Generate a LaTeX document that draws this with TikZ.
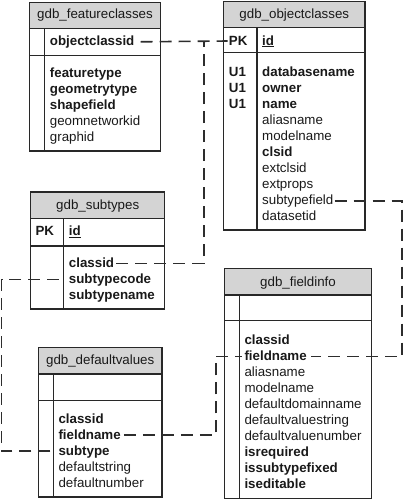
\documentclass[tikz,border=0pt]{standalone}
\usepackage{fontspec}
\setmainfont{Liberation Sans}
\definecolor{hdrgray}{RGB}{212,212,212}
\definecolor{framec}{RGB}{40,40,40}
\definecolor{txtc}{RGB}{25,25,25}
\definecolor{linkc}{RGB}{45,45,45}
\tikzset{
  frame/.style={draw=framec, line width=1.1pt},
  hdrbox/.style={frame, fill=hdrgray},
  sep/.style={draw=framec, line width=1.1pt},
  fld/.style={anchor=base west, inner sep=0pt, text=txtc, font=\fontsize{13.33}{16}\selectfont},
  bfld/.style={fld, font=\fontsize{13.33}{16}\selectfont\bfseries},
  ttl/.style={anchor=base, inner sep=0pt, text=txtc, font=\fontsize{13.33}{16}\selectfont},
  link/.style={draw=linkc, line width=1.6pt, dash pattern=on 12pt off 7pt}
}
\begin{document}
\begin{tikzpicture}[x=1pt,y=-1pt]
\useasboundingbox (0,0) rectangle (403,499);

% ---------- gdb_featureclasses ----------
\path[hdrbox] (29.7,2.7) rectangle (160.3,28.3);
\draw[frame] (29.7,2.7) rectangle (160.3,151);
\draw[sep] (29.7,55.3) -- (160.3,55.3);
\draw[sep] (44.3,28.3) -- (44.3,151);
\node[ttl] (fc-t) at (95,18.8) {gdb\_featureclasses};
\node[bfld] (fc-oid) at (49.7,45.8) {objectclassid};
\node[bfld] (fc-ft) at (49.7,77.8) {featuretype};
\node[bfld] (fc-gt) at (49.7,93.8) {geometrytype};
\node[bfld] (fc-sf) at (49.7,109.8) {shapefield};
\node[fld] (fc-gn) at (49.7,125.8) {geomnetworkid};
\node[fld] (fc-gr) at (49.7,141.8) {graphid};

% ---------- gdb_objectclasses ----------
\path[hdrbox] (223.7,1.3) rectangle (365,27.3);
\draw[frame] (223.7,1.3) rectangle (365,230);
\draw[sep] (223.7,52.7) -- (365,52.7);
\draw[sep] (257,27.3) -- (257,230);
\node[ttl] (oc-t) at (294.3,18.3) {gdb\_objectclasses};
\node[bfld] (oc-pk) at (228.7,45) {PK};
\node[bfld] (oc-id) at (262,45) {\underline{id}};
\node[bfld] (oc-u1) at (228.7,76.8) {U1};
\node[bfld] (oc-u2) at (228.7,92.8) {U1};
\node[bfld] (oc-u3) at (228.7,108.8) {U1};
\node[bfld] (oc-db) at (262,76.8) {databasename};
\node[bfld] (oc-ow) at (262,92.8) {owner};
\node[bfld] (oc-nm) at (262,108.8) {name};
\node[fld] (oc-al) at (262,124.8) {aliasname};
\node[fld] (oc-mn) at (262,140.8) {modelname};
\node[bfld] (oc-cl) at (262,156.8) {clsid};
\node[fld] (oc-ex) at (262,172.8) {extclsid};
\node[fld] (oc-ep) at (262,188.8) {extprops};
\node[fld] (oc-sf) at (262,204.8) {subtypefield};
\node[fld] (oc-ds) at (262,220.8) {datasetid};

% ---------- gdb_subtypes ----------
\path[hdrbox] (30.7,192) rectangle (164.7,218.3);
\draw[frame] (30.7,192) rectangle (164.7,309);
\draw[sep] (30.7,246) -- (164.7,246);
\draw[sep] (63.3,218.3) -- (63.3,309);
\node[ttl] (st-t) at (97.7,209.2) {gdb\_subtypes};
\node[bfld] (st-pk) at (35.3,235.5) {PK};
\node[bfld] (st-id) at (68.7,235.5) {\underline{id}};
\node[bfld] (st-ci) at (68.7,267.5) {classid};
\node[bfld] (st-sc) at (68.7,283.5) {subtypecode};
\node[bfld] (st-sn) at (68.7,299.5) {subtypename};

% ---------- gdb_fieldinfo ----------
\path[hdrbox] (224.3,268.7) rectangle (371.7,295);
\draw[frame] (224.3,268.7) rectangle (371.7,498.3);
\draw[sep] (224.3,320.7) -- (371.7,320.7);
\draw[sep] (239.3,295) -- (239.3,498.3);
\node[ttl] (fi-t) at (298,286.2) {gdb\_fieldinfo};
\node[bfld] (fi-ci) at (244.3,344.5) {classid};
\node[bfld] (fi-fn) at (244.3,360.5) {fieldname};
\node[fld] (fi-al) at (244.3,376.5) {aliasname};
\node[fld] (fi-mn) at (244.3,392.5) {modelname};
\node[fld] (fi-dd) at (244.3,408.5) {defaultdomainname};
\node[fld] (fi-dvs) at (244.3,424.5) {defaultvaluestring};
\node[fld] (fi-dvn) at (244.3,440.5) {defaultvaluenumber};
\node[bfld] (fi-ir) at (244.3,456.5) {isrequired};
\node[bfld] (fi-is) at (244.3,472.5) {issubtypefixed};
\node[bfld] (fi-ie) at (244.3,488.5) {iseditable};

% ---------- gdb_defaultvalues ----------
\path[hdrbox] (38.3,347.7) rectangle (162,374);
\draw[frame] (38.3,347.7) rectangle (162,497);
\draw[sep] (38.3,400.7) -- (162,400.7);
\draw[sep] (53.3,374) -- (53.3,497);
\node[ttl] (dv-t) at (100.2,364.8) {gdb\_defaultvalues};
\node[bfld] (dv-ci) at (58.3,423.2) {classid};
\node[bfld] (dv-fn) at (58.3,439.2) {fieldname};
\node[bfld] (dv-st) at (58.3,455.2) {subtype};
\node[fld] (dv-ds) at (58.3,471.2) {defaultstring};
\node[fld] (dv-dn) at (58.3,487.2) {defaultnumber};

% ---------- connector end points ----------
\coordinate (k1) at (204,0);
\coordinate (k2) at (401.7,0);
\coordinate (k3) at (216,0);
\coordinate (k4) at (1.7,0);
\coordinate (p-fcoid) at ([shift={(6pt,4pt)}]fc-oid.base east);
\coordinate (p-ocpk) at ([shift={(-1pt,4pt)}]oc-pk.base west);
\coordinate (p-stci) at ([shift={(2pt,4pt)}]st-ci.base east);
\coordinate (p-ocsf) at ([shift={(1pt,4pt)}]oc-sf.base east);
\coordinate (p-fifnr) at ([shift={(4pt,4pt)}]fi-fn.base east);
\coordinate (p-fifnl) at ([shift={(-2.5pt,4pt)}]fi-fn.base west);
\coordinate (p-dvfn) at ([shift={(3pt,4pt)}]dv-fn.base east);
\coordinate (p-dvst) at ([shift={(-8pt,4pt)}]dv-st.base west);
\coordinate (p-stsc) at ([shift={(-9pt,4pt)}]st-sc.base west);

% ---------- connectors ----------
\draw[link] (p-fcoid) -- (p-ocpk);
\draw[link] (p-stci) -- (p-stci -| k1) -- (p-ocpk -| k1);
\draw[link] (p-ocsf) -- (p-ocsf -| k2) -- (p-fifnr -| k2) -- (p-fifnr);
\draw[link] (p-dvfn) -- (p-dvfn -| k3) -- (p-fifnl -| k3) -- (p-fifnl);
\draw[link] (p-dvst) -- (p-dvst -| k4) -- (p-stsc -| k4) -- (p-stsc);
\end{tikzpicture}
\end{document}
